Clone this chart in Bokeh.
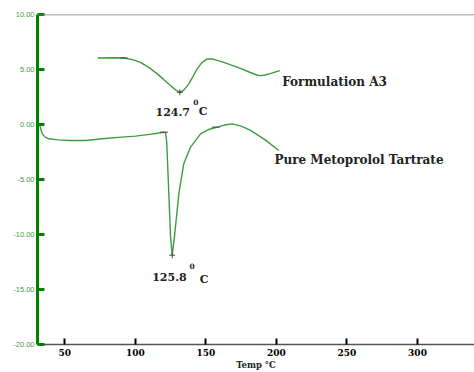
from bokeh.plotting import figure
from bokeh.models import Range1d, FixedTicker, NumeralTickFormatter, Span
from bokeh.core.properties import value
from bokeh.embed import file_html
from bokeh.resources import INLINE

# Formulation A3 DSC curve
a3_temp = [73.4, 85, 91.8, 98, 103.6, 110, 115.5, 120, 124.9, 128.5, 131.5, 134.5, 137.9,
           141, 143.8, 147, 150.9, 155, 162.7, 168, 174.5, 181, 186, 188.7, 192, 196, 202.4]
a3_val = [6.05, 6.07, 6.05, 5.90, 5.65, 5.15, 4.60, 4.10, 3.54, 3.15, 2.93, 3.15, 3.69,
          4.40, 5.05, 5.60, 5.96, 5.95, 5.65, 5.40, 5.10, 4.75, 4.50, 4.44, 4.50, 4.65, 4.90]

# Pure Metoprolol Tartrate DSC curve
pure_temp = [32.1, 33, 34.0, 36, 38.7, 45, 52.8, 65, 76.5, 90, 100.1, 110, 120.2, 121.4, 122.2,
             123.7, 124.9, 126.1, 127.7, 130.8, 134.3, 139.1, 146.2, 152, 158.0, 163, 168.6,
             175, 181.6, 192, 201.7]
pure_val = [0.0, -0.45, -0.85, -1.15, -1.30, -1.40, -1.45, -1.45, -1.30, -1.15, -1.06, -0.90,
            -0.70, -0.75, -1.6, -6.28, -10.2, -11.88, -10.2, -6.28, -3.56, -2.05, -0.85, -0.45,
            -0.24, -0.05, 0.06, -0.15, -0.54, -1.40, -2.36]

x_ticks = [50, 100, 150, 200, 250, 300]
y_ticks = [-20, -15, -10, -5, 0, 5, 10]

peak_a3 = "124.7"
peak_pure = "125.8"

GREEN = "#3f9b3f"
SERIF = value("DejaVu Serif")

p = figure(width=474, height=372, output_backend="svg", toolbar_location=None,
           x_range=Range1d(30.6, 340.4), y_range=Range1d(-20, 10),
           min_border_left=37, min_border_top=14, min_border_bottom=27, min_border_right=0)
p.outline_line_color = None
p.grid.visible = False
p.background_fill_color = "white"

p.line(a3_temp, a3_val, line_color=GREEN, line_width=1.4)
p.line(pure_temp, pure_val, line_color=GREEN, line_width=1.4)

# small instrument marks on curves
p.scatter([91.8, 120.2, 157.0], [6.05, -0.70, -0.24], marker="dash", size=8,
          line_color="#444444", line_width=1)
p.scatter([131.5, 126.1], [2.93, -11.88], marker="cross", size=6,
          line_color="#444444", line_width=1)

p.add_layout(Span(location=10, dimension="width", line_color="#777777", line_width=1.5))

# x axis
xa = p.xaxis[0]
xa.ticker = FixedTicker(ticks=x_ticks)
xa.axis_line_color = "#555555"
xa.axis_line_width = 1.5
xa.major_tick_in = 6
xa.major_tick_out = 0
xa.major_tick_line_color = "black"
xa.major_tick_line_width = 2
xa.minor_tick_line_color = None
xa.major_label_text_font = "DejaVu Serif"
xa.major_label_text_font_style = "bold"
xa.major_label_text_font_size = "9px"
xa.major_label_text_color = "black"
xa.major_label_standoff = 4
xa.axis_label = "Temp °C"
xa.axis_label_text_font = "DejaVu Serif"
xa.axis_label_text_font_style = "bold"
xa.axis_label_text_font_size = "8.5px"
xa.axis_label_text_color = "#222222"
xa.axis_label_standoff = 1

# y axis
ya = p.yaxis[0]
ya.ticker = FixedTicker(ticks=y_ticks)
ya.formatter = NumeralTickFormatter(format="0.00")
ya.axis_line_color = "#008000"
ya.axis_line_width = 3
ya.major_tick_in = 7
ya.major_tick_out = 0
ya.major_tick_line_color = "#008000"
ya.major_tick_line_width = 3
ya.minor_tick_line_color = None
ya.major_label_text_font = "Liberation Sans"
ya.major_label_text_font_size = "7.5px"
ya.major_label_text_color = "#4a9a4a"
ya.major_label_standoff = 3

# annotations
txt = dict(text_font=SERIF, text_font_style="bold", text_color="#222222",
           text_align="left", text_baseline="middle")
p.text(x=[204.1], y=[3.83], text=["Formulation A3"], text_font_size="12px", **txt)
p.text(x=[198.6], y=[-3.26], text=["Pure Metoprolol Tartrate"], text_font_size="12px", **txt)
p.text(x=[114.3, 111.9], y=[1.18, -13.84], text=[peak_a3, peak_pure], text_font_size="11px", **txt)
p.text(x=[141.0, 138.4], y=[2.09, -12.87], text=["0", "0"], text_font_size="7.5px", **txt)
p.text(x=[145.0, 145.7], y=[1.18, -14.05], text=["C", "C"], text_font_size="11px", **txt)

open("out.html", "w").write(file_html(p, INLINE))
